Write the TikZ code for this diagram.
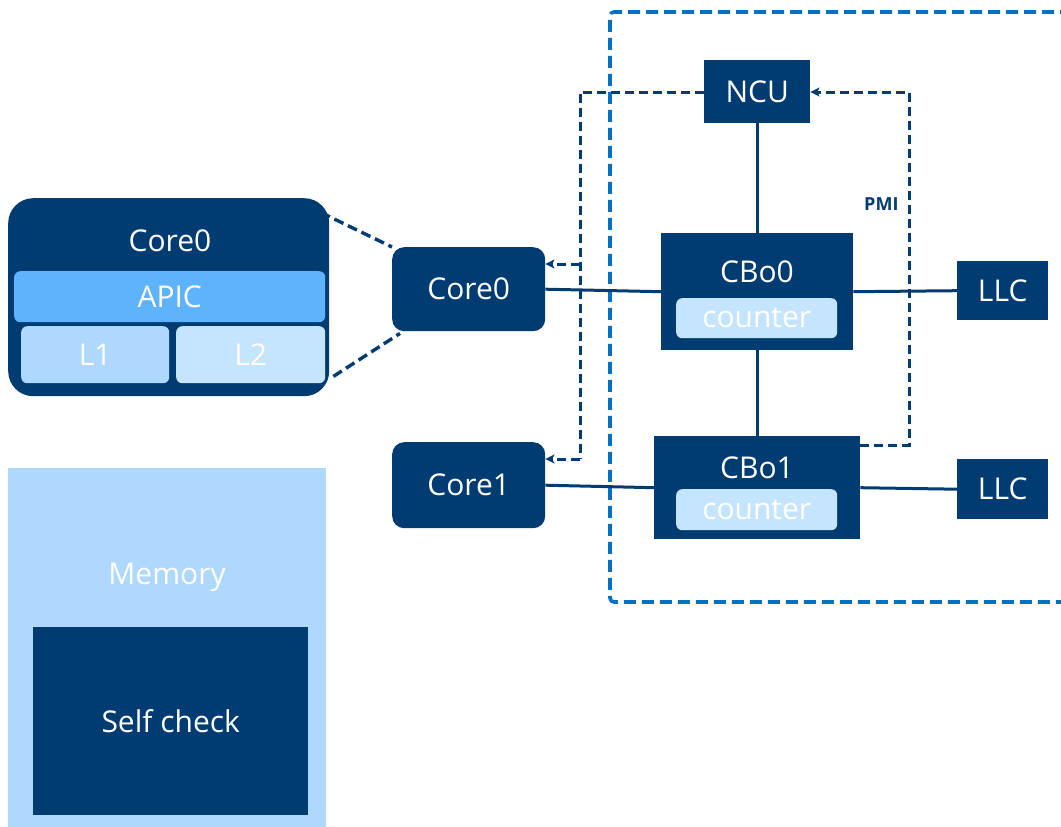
\documentclass[tikz,border=0pt]{standalone}
\usepackage{fontspec}
\setmainfont{Open Sans}
\usetikzlibrary{arrows.meta}
\definecolor{navy}{RGB}{0,60,113}
\definecolor{apicblue}{RGB}{94,179,252}
\definecolor{paleblue}{RGB}{174,216,254}
\definecolor{paleblueB}{RGB}{197,228,254}
\definecolor{framblue}{RGB}{0,113,197}
\tikzset{
  lbl/.style={font=\fontsize{30}{34}\selectfont},
  blk/.style={fill=navy, text=white, inner sep=0pt, anchor=north west, lbl},
  rblk/.style={blk, rounded corners=12pt},
  sub/.style={inner sep=0pt, anchor=north west, text=white, rounded corners=6pt, lbl},
  wire/.style={navy, line width=3pt},
  sig/.style={navy, line width=3pt, dash pattern=on 9pt off 5pt},
  sigarrow/.style={sig, -{Stealth[length=9pt,width=9pt,inset=2pt]}},
  zoomline/.style={navy, line width=3.4pt, dash pattern=on 10pt off 5pt},
  frame/.style={framblue, line width=3.6pt, dash pattern=on 12pt off 6pt, rounded corners=4pt}
}
\begin{document}
\begin{tikzpicture}[x=1pt, y=-1pt]
\useasboundingbox (0,0) rectangle (1061,827);

% uncore boundary
\draw[frame] (1090,12) -- (610,12) -- (610,602) -- (1090,602);

% detailed core view
\node[rblk, rounded corners=25pt, minimum width=321pt, minimum height=198pt] (bigcore) at (8,198) {};
\node[text=white, lbl] (bigcorelbl) at (170,241) {Core0};
\node[sub, fill=apicblue, minimum width=311pt, minimum height=51pt] (apic) at (14,271) {APIC};
\node[sub, fill=paleblue, minimum width=148pt, minimum height=57pt] (l1) at (21,326) {L1};
\node[sub, fill=paleblueB, minimum width=149pt, minimum height=57pt] (l2) at (176,326) {L2};

% memory
\node[inner sep=0pt, anchor=north west, fill=paleblue, minimum width=318pt, minimum height=362pt] (mem) at (8,468) {};
\node[text=white, lbl] (memlbl) at (167,577) {Memory};
\node[blk, minimum width=275pt, minimum height=188pt] (selfchk) at (33,627) {Self check};

% cores
\node[rblk, minimum width=153pt, minimum height=84pt] (core0) at (392,247) {Core0};
\node[rblk, minimum width=153pt, minimum height=86pt] (core1) at (392,442) {Core1};

% uncore blocks
\node[blk, minimum width=106pt, minimum height=63pt] (ncu) at (704,60) {NCU};
\node[blk, minimum width=192pt, minimum height=117pt] (cbo0) at (661,233) {};
\node[text=white, lbl] (cbo0lbl) at (757,272) {CBo0};
\node[sub, fill=paleblueB, minimum width=161pt, minimum height=40pt] (cnt0) at (676,298) {counter};
\node[blk, minimum width=206pt, minimum height=103pt] (cbo1) at (654,436) {};
\node[text=white, lbl] (cbo1lbl) at (757,468) {CBo1};
\node[sub, fill=paleblueB, minimum width=161pt, minimum height=41pt] (cnt1) at (676,489) {counter};
\node[blk, minimum width=91pt, minimum height=59pt] (llc0) at (957,261) {LLC};
\node[blk, minimum width=91pt, minimum height=60pt] (llc1) at (957,459) {LLC};

% zoom guides
\draw[zoomline] (bigcore.north east) ++(-22,8) -- (core0.north west);
\draw[zoomline] (bigcore.south east) ++(4,-20) -- ([xshift=8pt,yshift=-2pt]core0.south west);

% data links
\draw[wire] (core0.east) -- (cbo0.west);
\draw[wire] (cbo0.east) -- (llc0.west);
\draw[wire] (core1.east) -- (cbo1.west);
\draw[wire] (cbo1.east) -- (llc1.west);
\draw[wire] (ncu.south) -- (cbo0.north);
\draw[wire] (cbo0.south) -- (cbo1.north);

% interrupt paths
\coordinate (pmiturn) at (909,445);
\coordinate (irqbus) at (580,92);
\coordinate (irq0) at (580,264);
\coordinate (irq1) at (580,459);
\draw[sig] (ncu.west |- irqbus) -- (irqbus) -- (irq1);
\draw[sigarrow] (irq0) -- (core0.east |- irq0);
\draw[sigarrow] (irq1) -- (core1.east |- irq1);
\draw[sigarrow] (cbo1.east |- pmiturn) -- (pmiturn) |- (ncu.east |- irqbus);
\node[navy, font=\bfseries\fontsize{18}{21}\selectfont, anchor=east] (pmi) at (902,204) {PMI};
\end{tikzpicture}
\end{document}
